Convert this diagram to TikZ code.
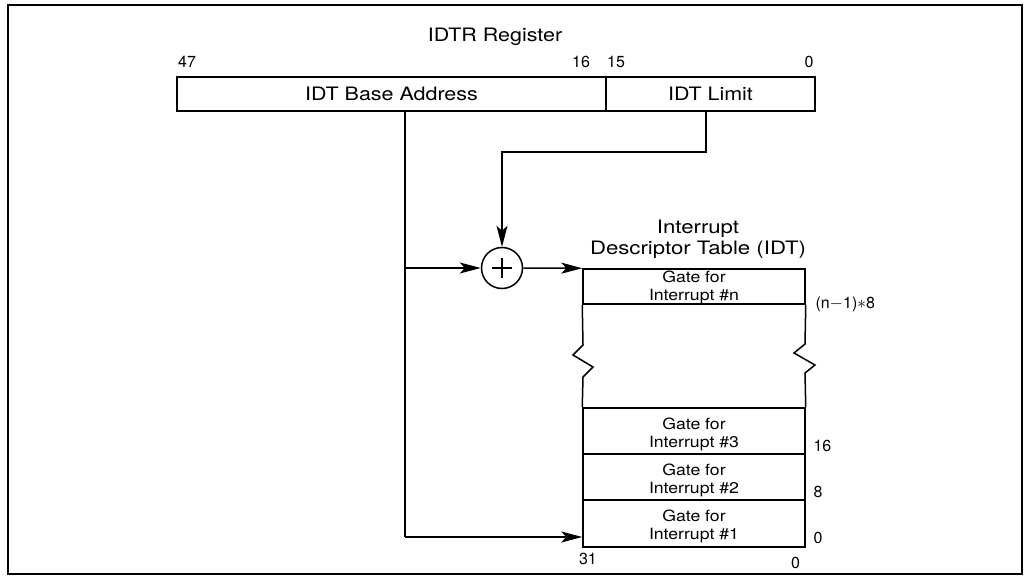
\documentclass[tikz,border=0pt]{standalone}
\usepackage{fontspec}
\setmainfont{TeX Gyre Heros}
\usetikzlibrary{arrows.meta}

\begin{document}
\begin{tikzpicture}[x=1pt,y=-1pt,>={Stealth[length=21pt,width=11pt,inset=5pt]},line width=1.5pt,
    cell/.style={draw,line width=1.5pt,inner sep=0pt},
    bigtxt/.style={font=\fontsize{18.5}{20}\selectfont,xscale=1.16},
    gatetxt/.style={font=\fontsize{15.5}{18}\selectfont,xscale=1.14,align=center},
    numtxt/.style={font=\fontsize{16}{18}\selectfont,inner sep=0pt}]
            \useasboundingbox (0,0) rectangle (1026,578);
            \draw [line width=1.2pt] (8,5) rectangle (1022,574);
            % IDTR register
            \node [bigtxt] (title) at (495,37) {IDTR Register};
            \node [cell,minimum width=429pt,minimum height=34pt] (base) at (391.5,94) {};
            \node [cell,minimum width=209pt,minimum height=34pt] (limit) at (710.5,94) {};
            \node [bigtxt] at (base.center) {IDT Base Address};
            \node [bigtxt] at (limit.center) {IDT Limit};
            \node [numtxt] (b47) at (187,62) {47};
            \node [numtxt] (b16) at (581,62) {16};
            \node [numtxt] (b15) at (616,62) {15};
            \node [numtxt] (b0) at (809,62) {0};
            % adder
            \node [draw,circle,minimum size=41pt,inner sep=0pt] (sum) at (502,268) {};
            \draw [line width=2.4pt] ([xshift=-10pt]sum.center) -- ([xshift=10pt]sum.center);
            \draw [line width=2.4pt] ([yshift=-10pt]sum.center) -- ([yshift=10pt]sum.center);
            % IDT
            \node [bigtxt,align=center,xscale=1.2/1.16,font=\fontsize{18.5}{21}\selectfont] (idt) at (698,239) {Interrupt\\Descriptor Table (IDT)};
            \node [cell,minimum width=222pt,minimum height=35pt] (rown) at (694,286.5) {};
            \node [cell,minimum width=222pt,minimum height=46pt] (row3) at (694,431) {};
            \node [cell,minimum width=222pt,minimum height=46pt] (row2) at (694,477) {};
            \node [cell,minimum width=222pt,minimum height=47pt] (row1) at (694,523.5) {};
            \node [gatetxt] at ([yshift=-1pt]rown.center) {Gate for\\Interrupt \#n};
            \node [gatetxt] at ([yshift=-3pt]row3.center) {Gate for\\Interrupt \#3};
            \node [gatetxt] at ([yshift=-3pt]row2.center) {Gate for\\Interrupt \#2};
            \node [gatetxt] at ([yshift=-3pt]row1.center) {Gate for\\Interrupt \#1};
            \draw (rown.south west) -- (583,345) -- (573,355) -- (593,367) -- (583,377) -- (row3.north west);
            \draw (rown.south east) -- (805,344) -- (794,353) -- (815,365) -- (805,373) -- (row3.north east);
            \node [numtxt,anchor=west] (offn) at ([xshift=9pt]rown.south east) {(n$-$1)$*$8};
            \node [numtxt,anchor=south west] (off3) at ([xshift=7pt,yshift=2pt]row3.south east) {16};
            \node [numtxt,anchor=south west] (off2) at ([xshift=7pt,yshift=2pt]row2.south east) {8};
            \node [numtxt,anchor=south west] (off1) at ([xshift=7pt,yshift=3pt]row1.south east) {0};
            \node [numtxt,anchor=north west] (t31) at ([xshift=-4pt,yshift=-5pt]row1.south west) {31};
            \node [numtxt,anchor=north east] (t0) at ([xshift=-5pt,yshift=-9pt]row1.south east) {0};
            % connections
            \coordinate (split) at (405,268);
            \coordinate (bend) at (405,537);
            \coordinate (lim) at (706,111);
            \draw (base.south -| split) -- (bend);
            \draw [->] (bend) -- (row1.west |- bend);
            \draw [->] (split) -- (sum.west);
            \draw [->] (sum.east) -- (rown.north west);
            \draw [->] (lim) -- (706,152) -| (sum.north);
\end{tikzpicture}
\end{document}
